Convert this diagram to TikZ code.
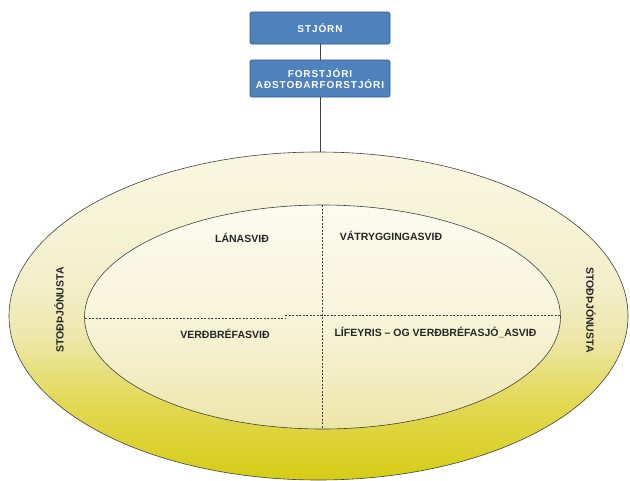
\documentclass[tikz,border=0pt]{standalone}
\usepackage{fontspec}
\setmainfont{Liberation Sans}
\usetikzlibrary{shapes.geometric}
\definecolor{boxblue}{HTML}{4F81BD}
\definecolor{boxedge}{HTML}{2F5A8F}
\definecolor{linegray}{HTML}{404040}
\pgfdeclareverticalshading{outershade}{100bp}{%
  color(0bp)=(rgb,255:red,214;green,204;blue,20);
  color(25bp)=(rgb,255:red,214;green,204;blue,20);
  color(37bp)=(rgb,255:red,226;green,217;blue,85);
  color(47bp)=(rgb,255:red,237;green,231;blue,172);
  color(55bp)=(rgb,255:red,243;green,239;blue,203);
  color(75bp)=(rgb,255:red,249;green,247;blue,226);
  color(100bp)=(rgb,255:red,249;green,247;blue,226)}
\pgfdeclareverticalshading{innershade}{100bp}{%
  color(0bp)=(rgb,255:red,236;green,229;blue,168);
  color(25bp)=(rgb,255:red,236;green,229;blue,168);
  color(37bp)=(rgb,255:red,242;green,237;blue,196);
  color(50bp)=(rgb,255:red,247;green,244;blue,218);
  color(75bp)=(rgb,255:red,252;green,251;blue,239);
  color(100bp)=(rgb,255:red,252;green,251;blue,239)}
\tikzset{
  orgbox/.style={draw=boxedge, fill=boxblue, rounded corners=2pt, line width=0.6pt,
    minimum width=140pt, text=white, font=\fontsize{10}{11.5}\selectfont\bfseries\addfontfeature{LetterSpace=9}, align=center, inner sep=1pt},
  lab/.style={font=\fontsize{10.5}{12}\selectfont\bfseries, text=black!85, inner sep=0pt},
  conn/.style={draw=linegray, line width=0.7pt},
  divider/.style={draw=linegray, line width=0.5pt, dash pattern=on 2pt off 1.5pt}
}
\begin{document}
\begin{tikzpicture}[x=1pt,y=-1pt]
\useasboundingbox (0,0) rectangle (630,480);
\fill[white] (0,0) rectangle (630,480);
% outer ellipse
\node[ellipse, draw=linegray, line width=0.6pt, minimum width=619pt, minimum height=328pt,
  inner sep=0pt, shading=outershade] (outer) at (318.5,316) {};
% inner ellipse
\node[ellipse, draw=linegray, line width=0.6pt, minimum width=476pt, minimum height=224pt,
  inner sep=0pt, shading=innershade] (inner) at (322.5,317) {};
% dividers
\coordinate (vt) at (322,205);
\coordinate (vb) at (322,429);
\draw[divider] (vt) -- (vb);
\coordinate (hl) at (85,318);
\coordinate (hm1) at (285,318);
\coordinate (hm2) at (285,315.5);
\coordinate (hr) at (560,315.5);
\draw[divider] (hl) -- (hm1);
\draw[divider] (hm2) -- (hr);
% boxes
\node[orgbox, minimum height=32pt] (stjorn) at (320,28) {STJÓRN};
\node[orgbox, minimum height=37pt] (forstjori) at (320,78.5) {FORSTJÓRI\\AÐSTOÐARFORSTJÓRI};
\draw[conn] (stjorn.south) -- (forstjori.north);
\draw[conn] (forstjori.south) -- (forstjori.south |- outer.north);
% labels
\node[lab] (lana) at (242,238) {LÁNASVIÐ};
\node[lab] (vatr) at (391,236) {VÁTRYGGINGASVIÐ};
\node[lab] (verd) at (225,334) {VERÐBRÉFASVIÐ};
\node[lab] (lif) at (435.5,332) {LÍFEYRIS – OG VERÐBRÉFASJÓ\_ASVIÐ};
\node[lab, rotate=90] (stodl) at (59,310) {STOÐÞJÓNUSTA};
\node[lab, rotate=-90] (stodr) at (591,310) {STOÐÞJÓNUSTA};
\end{tikzpicture}
\end{document}
